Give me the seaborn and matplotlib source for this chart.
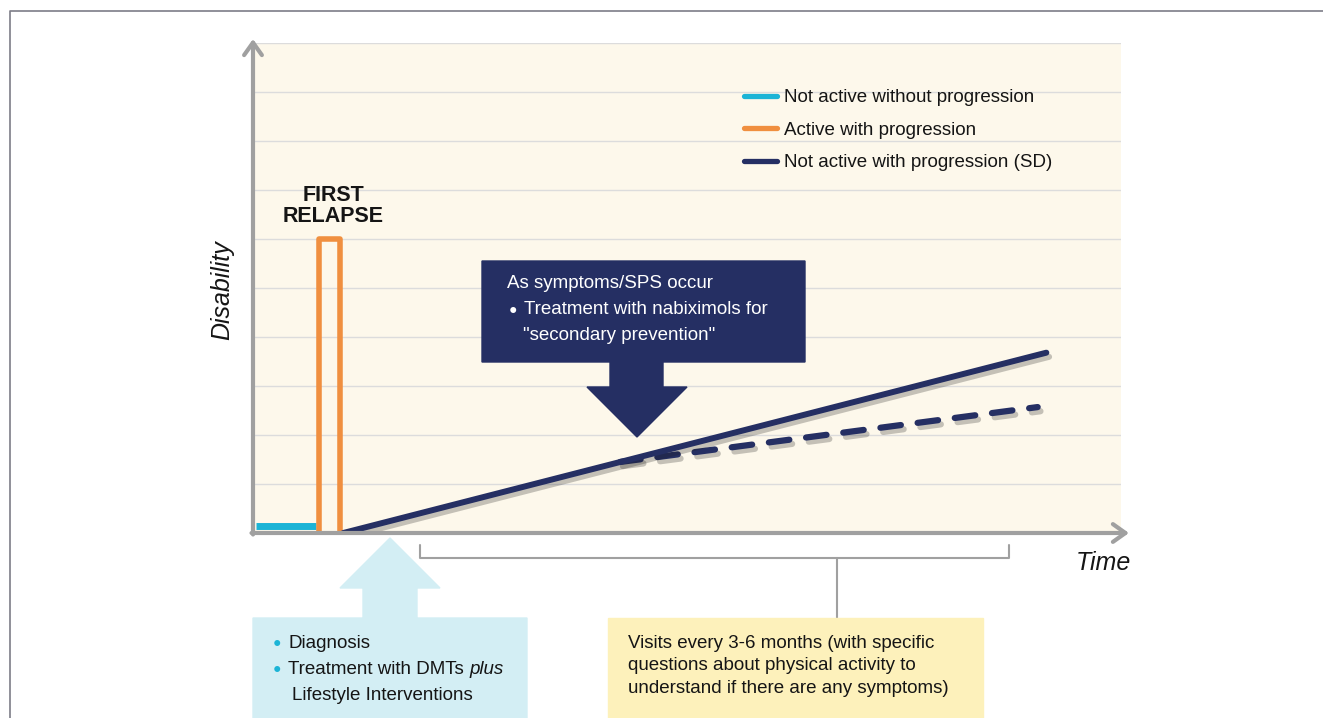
import seaborn as sns
import matplotlib.pyplot as plt
import matplotlib.patheffects as pe
from matplotlib.patches import Polygon, Rectangle
from matplotlib.lines import Line2D
from matplotlib.transforms import Affine2D

W, H = 1323, 718

# disease course (time in arbitrary units 0-100, disability 0-10)
stable_time = [0.4, 7.3]
stable_disab = [0.14, 0.14]
relapse_time = [7.6, 7.6, 10.0, 10.0]
relapse_disab = [0.0, 6.0, 6.0, 0.0]
sd_time = [10.4, 91.4]
sd_disab = [0.0, 3.68]
nabix_time = [42.3, 90.4]
nabix_disab = [1.45, 2.57]

legend_labels = [
    "Not active without progression",
    "Active with progression",
    "Not active with progression (SD)",
]

CYAN = "#1cb4d6"
ORANGE = "#f08f3f"
NAVY = "#252f63"
GREY = "#a0a0a0"
TXT = "#151515"

sns.set_theme(style="white")
plt.rcParams["font.family"] = ["Liberation Sans", "DejaVu Sans"]

fig = plt.figure(figsize=(W / 100, H / 100), dpi=100)
# pixel coords of the reference, y downwards
px = Affine2D().scale(1 / W, -1 / H).translate(0, 1) + fig.transFigure

ax = fig.add_axes([253 / W, 1 - 533 / H, (1121 - 253) / W, (533 - 43) / H])
ax.set_facecolor("#fdf8eb")
ax.set_xlim(0, 100)
ax.set_ylim(0, 10)
ax.set_xticks([])
ax.set_yticks(range(1, 11))
ax.set_yticklabels([])
ax.tick_params(length=0)
ax.grid(axis="y", color="#dcdcdc", lw=1)
for s in ax.spines.values():
    s.set_visible(False)

shadow = [pe.SimpleLineShadow(offset=(2, -3), shadow_color="k", alpha=0.25), pe.Normal()]

sns.lineplot(x=stable_time, y=stable_disab, color=CYAN, lw=5, ax=ax,
             sort=False, estimator=None, solid_capstyle="butt")
sns.lineplot(x=relapse_time, y=relapse_disab, color=ORANGE, lw=4, ax=ax,
             sort=False, estimator=None, solid_joinstyle="round")
sns.lineplot(x=nabix_time, y=nabix_disab, color=NAVY, lw=4.5, ax=ax, sort=False,
             estimator=None, linestyle=(0, (3.3, 2.7)), dash_capstyle="round",
             path_effects=shadow)
sns.lineplot(x=sd_time, y=sd_disab, color=NAVY, lw=4.3, ax=ax, sort=False,
             estimator=None, solid_capstyle="round", path_effects=shadow)

handles = [Line2D([], [], color=c, lw=3.8, solid_capstyle="round")
           for c in (CYAN, ORANGE, NAVY)]
ax.legend(handles, legend_labels, loc="upper left", bbox_to_anchor=(744, 89),
          bbox_transform=px, frameon=False, fontsize=13.5, handlelength=1.75,
          handletextpad=0.38, labelspacing=0.82, borderpad=0, borderaxespad=0,
          labelcolor=TXT)

# axes with arrow heads
arrow = dict(arrowstyle="->,head_length=0.45,head_width=0.32", color=GREY, lw=3,
             mutation_scale=20, shrinkA=0, shrinkB=0)
ax.annotate("", xy=(253, 39), xytext=(253, 534.5), xycoords=px, textcoords=px,
            arrowprops=arrow, annotation_clip=False)
ax.annotate("", xy=(1129, 533), xytext=(251.5, 533), xycoords=px, textcoords=px,
            arrowprops=arrow, annotation_clip=False)

fig.text(222, 290, "Disability", transform=px, rotation=90, fontsize=18,
         style="italic", ha="center", va="center", color=TXT)
fig.text(1103, 563, "Time", transform=px, fontsize=18, style="italic",
         ha="center", va="center", color=TXT)
fig.text(333, 206, "FIRST\nRELAPSE", transform=px, fontsize=15.5, weight="bold",
         ha="center", va="center", linespacing=0.95, color=TXT)

# navy callout
navy_pts = [(482, 261), (805, 261), (805, 362), (663, 362), (663, 387), (687, 387),
            (637, 437), (587, 387), (610, 387), (610, 362), (482, 362)]
fig.add_artist(Polygon(navy_pts, closed=True, transform=px, color=NAVY, zorder=3))
fig.text(507, 284, "As symptoms/SPS occur", transform=px, fontsize=13.5,
         color="white", va="center", zorder=4)
fig.text(513, 310, "\u25cf", transform=px, fontsize=10, color="white",
         ha="center", va="center", zorder=4)
fig.text(524, 310, "Treatment with nabiximols for", transform=px, fontsize=13.5,
         color="white", va="center", zorder=4)
fig.text(523, 335, "\"secondary prevention\"", transform=px, fontsize=13.5,
         color="white", va="center", zorder=4)

# bracket for follow-up visits
fig.add_artist(Line2D([420, 420, 1009, 1009], [545, 558, 558, 545], transform=px,
                      color=GREY, lw=1.5))
fig.add_artist(Line2D([837, 837], [558, 618], transform=px, color=GREY, lw=1.5))

# light blue callout
blue_pts = [(253, 720), (253, 618), (363, 618), (363, 588), (340, 588), (390, 538),
            (440, 588), (417, 588), (417, 618), (527, 618), (527, 720)]
fig.add_artist(Polygon(blue_pts, closed=True, transform=px, color="#d3eef4", zorder=3))
for y in (643, 669):
    fig.text(277, y, "\u25cf", transform=px, fontsize=10, color=CYAN,
             ha="center", va="center", zorder=4)
fig.text(288, 643, "Diagnosis", transform=px, fontsize=13.5, color=TXT,
         va="center", zorder=4)
dmt = fig.text(288, 669, "Treatment with DMTs ", transform=px, fontsize=13.5,
               color=TXT, va="center", zorder=4)
fig.add_artist(plt.Annotation("plus", xy=(1, 0.5), xycoords=dmt, fontsize=13.5,
                              style="italic", color=TXT, va="center", zorder=4))
fig.text(292, 695, "Lifestyle Interventions", transform=px, fontsize=13.5,
         color=TXT, va="center", zorder=4)

# yellow note
fig.add_artist(Rectangle((608, 618), 375, 104, transform=px, color="#fdf1bb", zorder=3))
fig.text(628, 666, "Visits every 3-6 months (with specific\n"
         "questions about physical activity to\n"
         "understand if there are any symptoms)", transform=px, fontsize=13.5,
         color=TXT, va="center", linespacing=1.42, zorder=4)

# outer frame
fig.add_artist(Line2D([9.5, 9.5, W], [H, 11, 11], transform=px, color="#7d7d87", lw=1.2))

fig.savefig("out.png", dpi=100)
